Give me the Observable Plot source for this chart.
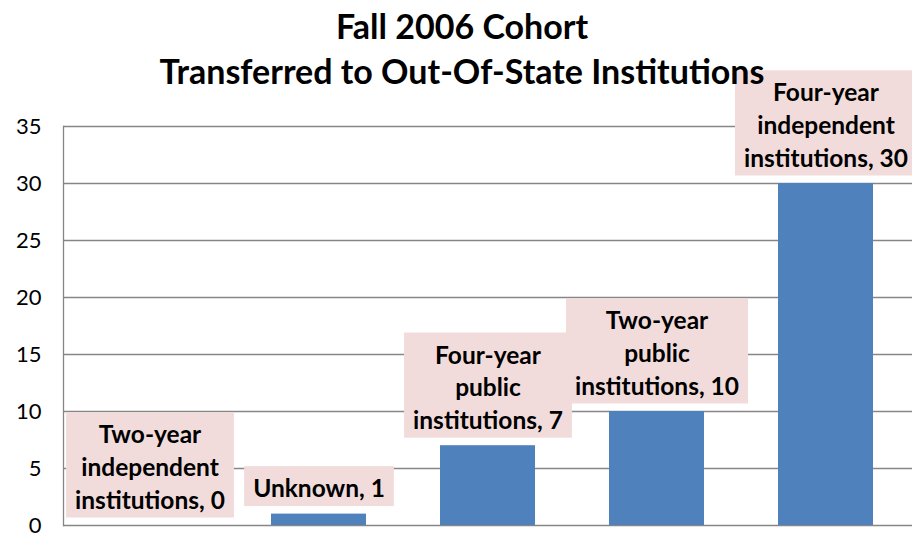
<!DOCTYPE html>
<html><head><meta charset="utf-8">
<script src="https://cdn.jsdelivr.net/npm/d3@7"></script>
<script src="https://cdn.jsdelivr.net/npm/@observablehq/plot@0.6"></script>
<style>
body{margin:0;background:#fff;}
#wrap{position:relative;width:912px;height:533px;overflow:hidden;background:#fff;}
#title{position:absolute;left:0;top:3px;width:912px;text-align:center;font-family:Lato;font-weight:bold;font-size:34px;line-height:45px;color:#000;z-index:2;pointer-events:none;padding-left:12px;box-sizing:border-box}
#wrap svg{position:absolute;left:0;top:0}
</style></head>
<body><div id="wrap"><div id="title">Fall 2006 Cohort<br>Transferred to Out-Of-State Institutions</div></div>
<script>
const categories = ["Two-year independent institutions","Unknown","Four-year public institutions","Two-year public institutions","Four-year independent institutions"];
const values = [0, 1, 7, 10, 30];
const labels = ["Two-year\nindependent\ninstitutions, 0","Unknown, 1","Four-year\npublic\ninstitutions, 7","Two-year\npublic\ninstitutions, 10","Four-year\nindependent\ninstitutions, 30"];
const yTicks = [0, 5, 10, 15, 20, 25, 30, 35];
const data = categories.map((c, i) => ({category: c, value: values[i], label: labels[i]}));

const chart = Plot.plot({
  width: 912, height: 533,
  marginTop: 126, marginBottom: 8, marginLeft: 63, marginRight: 0,
  style: {fontFamily: "Lato", background: "transparent", overflow: "visible"},
  x: {domain: categories, paddingInner: 0.435, paddingOuter: 0.2175, axis: null},
  y: {domain: [0, 35], ticks: yTicks, label: null},
  marks: [
    Plot.gridY(yTicks, {stroke: "#868686", strokeOpacity: 1, strokeWidth: 1.3}),
    Plot.frame({anchor: "left", stroke: "#868686", strokeWidth: 1.3}),
    Plot.axisY(yTicks, {tickSize: 0, tickPadding: 22, fontSize: 22, fill: "#000", label: null}),
    Plot.barY(data, {x: "category", y: "value", fill: "#4F81BD"}),
    Plot.text(data, {x: "category", y: "value", text: "label", lineAnchor: "bottom", dy: -17,
      fontSize: 24.5, fontWeight: "bold", lineHeight: 1.33, fill: "#000"})
  ]
});
document.getElementById("wrap").append(chart);

const padX = 9, padTop = 7, padBottom = 4;
const g = chart.querySelector('g[aria-label="text"]');
if (g) {
  g.querySelectorAll("text").forEach(t => {
    const b = t.getBBox();
    const r = document.createElementNS("http://www.w3.org/2000/svg", "rect");
    r.setAttribute("x", b.x - padX);
    r.setAttribute("y", b.y - padTop);
    r.setAttribute("width", b.width + 2 * padX);
    r.setAttribute("height", b.height + padTop + padBottom);
    r.setAttribute("fill", "#F2DCDB");
    const tr = t.getAttribute("transform");
    if (tr) r.setAttribute("transform", tr);
    t.parentNode.insertBefore(r, t);
  });
}
</script>
</body></html>
